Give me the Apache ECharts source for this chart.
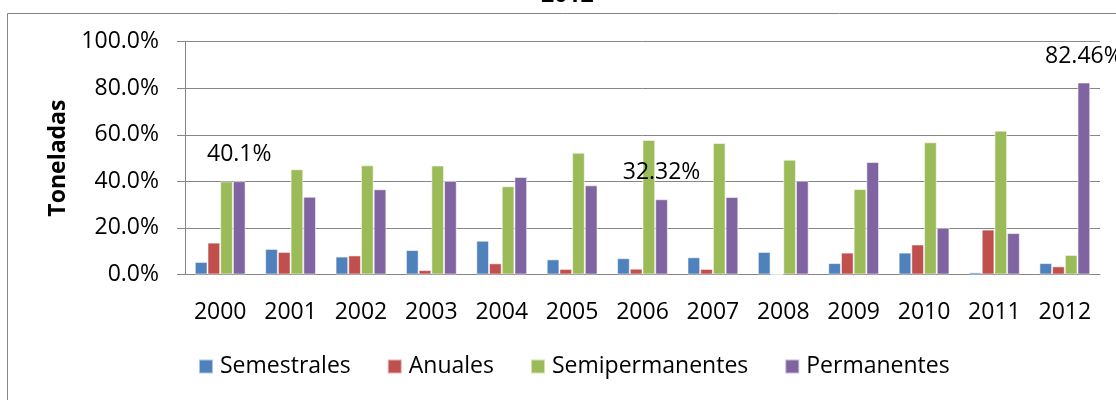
<!DOCTYPE html>
<html>
<head>
<meta charset="utf-8">
<script src="https://cdn.jsdelivr.net/npm/echarts@6/dist/echarts.min.js"></script>
<style>
  html, body { margin: 0; padding: 0; background: #ffffff; }
  #chart { width: 1116px; height: 400px; }
</style>
</head>
<body>
<div id="chart"></div>
<script>
// Years on the category axis
const years = ['2000', '2001', '2002', '2003', '2004', '2005', '2006', '2007', '2008', '2009', '2010', '2011', '2012'];

// Share (%) of each crop group per year
const semestrales     = [5.4, 11.0, 7.7, 10.5, 14.5, 6.5, 7.0, 7.4, 9.7, 4.9, 9.4, 0.9, 4.9];
const anuales         = [13.7, 9.7, 8.2, 1.9, 4.8, 2.4, 2.5, 2.4, 0, 9.4, 12.9, 19.3, 3.5];
const semipermanentes = [40.0, 45.2, 46.9, 46.8, 37.9, 52.3, 57.8, 56.5, 49.3, 36.7, 56.8, 61.8, 8.4];
const permanentes     = [40.1, 33.4, 36.6, 40.2, 41.9, 38.3, 32.32, 33.3, 40.3, 48.3, 20.1, 17.8, 82.46];

// Years whose Permanentes value carries a label
const labelledYears = ['2000', '2006', '2012'];

const seriesNames = ['Semestrales', 'Anuales', 'Semipermanentes', 'Permanentes'];
const seriesColors = ['#4f81bd', '#c0504d', '#9bbb59', '#8064a2'];

const FONT = '"Open Sans", "Liberation Sans", sans-serif';
const GRID_GREY = '#868686';

const chart = echarts.init(document.getElementById('chart'), null, { renderer: 'canvas' });

function barSeries(name, values, idx) {
  return {
    name: name,
    type: 'bar',
    barGap: '0%',
    barCategoryGap: '27.8%',
    itemStyle: {
      color: seriesColors[idx],
      borderColor: 'rgba(255,255,255,0.55)',
      borderWidth: 1
    },
    data: values
  };
}

const permanentesData = permanentes.map((v, i) => {
  if (labelledYears.indexOf(years[i]) === -1) return v;
  return {
    value: v,
    label: {
      show: true,
      position: 'top',
      distance: 15,
      formatter: (p) => p.value + '%',
      color: '#000',
      fontFamily: FONT,
      fontSize: 23
    }
  };
});

const series = [
  barSeries(seriesNames[0], semestrales, 0),
  barSeries(seriesNames[1], anuales, 1),
  barSeries(seriesNames[2], semipermanentes, 2),
  barSeries(seriesNames[3], permanentesData, 3)
];

chart.setOption({
  animation: false,
  backgroundColor: '#ffffff',
  textStyle: { fontFamily: FONT },
  title: {
    text: '2012',
    left: 541,
    top: -16,
    padding: 0,
    textStyle: { fontFamily: FONT, fontSize: 23, fontWeight: 'bold', color: '#000' }
  },
  graphic: [{
    type: 'rect',
    shape: { x: 7.5, y: 13.5, width: 1140, height: 420 },
    style: { fill: 'none', stroke: GRID_GREY, lineWidth: 1 },
    silent: true,
    z: -1
  }],
  grid: { left: 185, right: 16, top: 41.7, bottom: 125.5, containLabel: false },
  legend: {
    data: seriesNames,
    left: 198,
    top: 355,
    padding: 0,
    icon: 'rect',
    itemWidth: 14,
    itemHeight: 14,
    itemGap: 36,
    textStyle: { fontFamily: FONT, fontSize: 23, color: '#000', padding: [0, 0, 0, 2] }
  },
  xAxis: {
    type: 'category',
    data: years,
    axisLine: { show: true, lineStyle: { color: GRID_GREY, width: 1 } },
    axisTick: { show: false },
    axisLabel: { margin: 26, color: '#000', fontFamily: FONT, fontSize: 23 }
  },
  yAxis: {
    type: 'value',
    min: 0,
    max: 100,
    interval: 20,
    name: 'Toneladas',
    nameLocation: 'middle',
    nameGap: 106,
    nameTextStyle: { fontFamily: FONT, fontSize: 23, fontWeight: 'bold', color: '#000' },
    axisLine: { show: true, lineStyle: { color: GRID_GREY, width: 1 } },
    axisTick: { show: true, length: 8, lineStyle: { color: GRID_GREY } },
    splitLine: { show: true, lineStyle: { color: GRID_GREY, width: 1 } },
    axisLabel: {
      margin: 26,
      color: '#000',
      fontFamily: FONT,
      fontSize: 23,
      formatter: (v) => v.toFixed(1) + '%'
    }
  },
  series: series
});
</script>
</body>
</html>
